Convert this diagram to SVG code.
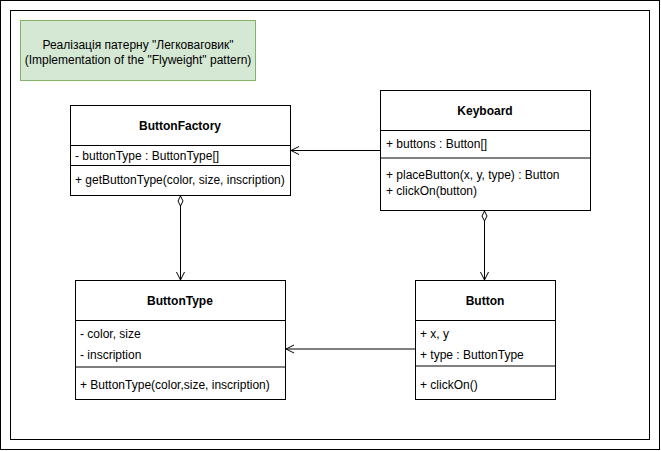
<svg xmlns="http://www.w3.org/2000/svg" width="661" height="451" viewBox="0 0 661 451">
<style>
text{font-family:"Liberation Sans",Arial,sans-serif;font-size:12px;fill:#000}
.h{font-weight:bold;text-anchor:middle}
.c{text-anchor:middle}
.b{fill:#fff;stroke:#000;stroke-width:1}
.l{stroke:#000;stroke-width:1;fill:none}
</style>
<defs>
<marker id="open" markerWidth="10" markerHeight="10" refX="9" refY="5" orient="auto" markerUnits="userSpaceOnUse">
<path d="M1,1 L9,5 L1,9" fill="none" stroke="#000" stroke-width="1"/>
</marker>
<marker id="dia" markerWidth="12" markerHeight="8" refX="1" refY="4" orient="auto" markerUnits="userSpaceOnUse">
<path d="M1,4 L6,1.5 L11,4 L6,6.5 Z" fill="#fff" stroke="#000" stroke-width="1"/>
</marker>
</defs>
<rect x="0" y="0" width="661" height="451" fill="#fff"/>
<rect x="0.5" y="0.5" width="659" height="449" class="l"/>
<rect x="10.5" y="10.5" width="639" height="429" class="l"/>

<g id="title">
<rect x="20.5" y="20.5" width="235" height="60" fill="#d5e8d4" stroke="#82b366"/>
<text class="c" x="138" y="49">Реалізація патерну "Легковаговик"</text>
<text class="c" x="138" y="64">(Implementation of the "Flyweight" pattern)</text>
</g>

<g id="ButtonFactory">
<rect x="70.5" y="105.5" width="220" height="90" class="b"/>
<line x1="70.5" y1="145.5" x2="290.5" y2="145.5" class="l"/>
<line x1="70.5" y1="165.5" x2="290.5" y2="165.5" class="l"/>
<text class="h" x="180" y="130">ButtonFactory</text>
<text x="75" y="160">- buttonType : ButtonType[]</text>
<text x="75" y="184">+ getButtonType(color, size, inscription)</text>
</g>

<g id="Keyboard">
<rect x="380.5" y="90.5" width="210" height="120" class="b"/>
<line x1="380.5" y1="130.5" x2="590.5" y2="130.5" class="l"/>
<line x1="380.5" y1="158" x2="590.5" y2="158" class="l"/>
<text class="h" x="485" y="115">Keyboard</text>
<text x="386" y="148">+ buttons : Button[]</text>
<text x="386" y="179">+ placeButton(x, y, type) : Button</text>
<text x="386" y="195">+ clickOn(button)</text>
</g>

<g id="ButtonType">
<rect x="75.5" y="280.5" width="210" height="119" class="b"/>
<line x1="75.5" y1="320.5" x2="285.5" y2="320.5" class="l"/>
<line x1="75.5" y1="367" x2="285.5" y2="367" class="l"/>
<text class="h" x="180" y="305">ButtonType</text>
<text x="80" y="338">- color, size</text>
<text x="80" y="359">- inscription</text>
<text x="80" y="389">+ ButtonType(color,size, inscription)</text>
</g>

<g id="Button">
<rect x="415.5" y="280.5" width="140" height="119" class="b"/>
<line x1="415.5" y1="320.5" x2="555.5" y2="320.5" class="l"/>
<line x1="415.5" y1="366" x2="555.5" y2="366" class="l"/>
<text class="h" x="485" y="305">Button</text>
<text x="420" y="338">+ x, y</text>
<text x="420" y="359">+ type : ButtonType</text>
<text x="420" y="389">+ clickOn()</text>
</g>

<g id="connectors">
<line x1="380" y1="150.5" x2="291" y2="150.5" class="l" marker-end="url(#open)"/>
<line x1="180.5" y1="196" x2="180.5" y2="280" class="l" marker-start="url(#dia)" marker-end="url(#open)"/>
<line x1="484.5" y1="211" x2="484.5" y2="280" class="l" marker-start="url(#dia)" marker-end="url(#open)"/>
<line x1="415" y1="349" x2="286" y2="349" class="l" marker-end="url(#open)"/>
</g>
</svg>
